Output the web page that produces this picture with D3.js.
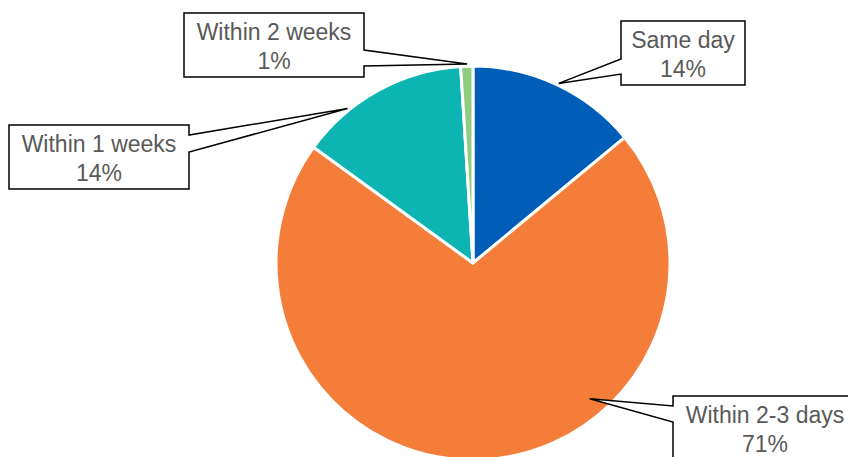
<!DOCTYPE html>
<html>
<head>
<meta charset="utf-8">
<script src="https://cdn.jsdelivr.net/npm/d3@7"></script>
<style>
  html, body { margin: 0; padding: 0; background: #fff; }
  svg { display: block; }
</style>
</head>
<body>
<svg id="chart" width="848" height="457"></svg>
<script>
// Response time categories and their shares (percent)
const categories = ["Same day", "Within 2-3 days", "Within 1 weeks", "Within 2 weeks"];
const values = [14, 71, 14, 1];
const valueLabels = ["14%", "71%", "14%", "1%"];

// Slice colours
const colors = ["#005EB8", "#F47D3A", "#0CB5B1", "#8FCC82"];

// Callout layout: box position and the pointer tip (polar, degrees clockwise from 12 o'clock)
const calloutBoxes = [
  { x: 621, y: 21, w: 124, h: 64, side: "left", baseY0: 38, baseY1: 53, tipAngle: 25.5, tipR: 199 },
  { x: 673, y: 396, w: 184, h: 64, side: "left", baseY0: 10, baseY1: 26, tipAngle: 139.3, tipR: 179 },
  { x: 9, y: 125, w: 180, h: 64, side: "right", baseY0: 10, baseY1: 27, tipAngle: 320.9, tipR: 199 },
  { x: 184, y: 13, w: 180, h: 64, side: "right", baseY0: 37, baseY1: 53, tipAngle: 358.3, tipR: 199 }
];

const cx = 473, cy = 263, radius = 197;
const svg = d3.select("#chart");

const pie = d3.pie().sort(null).value(d => d)(values);
const arc = d3.arc().innerRadius(0).outerRadius(radius);

const g = svg.append("g").attr("transform", `translate(${cx},${cy})`);
g.selectAll("path.slice")
  .data(pie)
  .join("path")
  .attr("class", "slice")
  .attr("d", arc)
  .attr("fill", (d, i) => colors[i])
  .attr("stroke", "#fff")
  .attr("stroke-width", 3)
  .attr("stroke-linejoin", "round");

// Callout shapes: rectangle with a wedge pointer towards its slice
const toRad = Math.PI / 180;
calloutBoxes.forEach((b, i) => {
  const [tx, ty] = d3.pointRadial(b.tipAngle * toRad, b.tipR);
  const tipX = cx + tx, tipY = cy + ty;
  const p = d3.path();
  const x0 = b.x, x1 = b.x + b.w, y0 = b.y, y1 = b.y + b.h;
  if (b.side === "left") {
    p.moveTo(x0, y0);
    p.lineTo(x1, y0);
    p.lineTo(x1, y1);
    p.lineTo(x0, y1);
    p.lineTo(x0, y0 + b.baseY1);
    p.lineTo(tipX, tipY);
    p.lineTo(x0, y0 + b.baseY0);
    p.closePath();
  } else {
    p.moveTo(x0, y0);
    p.lineTo(x1, y0);
    p.lineTo(x1, y0 + b.baseY0);
    p.lineTo(tipX, tipY);
    p.lineTo(x1, y0 + b.baseY1);
    p.lineTo(x1, y1);
    p.lineTo(x0, y1);
    p.closePath();
  }
  svg.append("path")
    .attr("d", p.toString())
    .attr("fill", "#fff")
    .attr("stroke", "#000")
    .attr("stroke-width", 1.5)
    .attr("stroke-linejoin", "miter");

  const t = svg.append("text")
    .attr("x", b.x + b.w / 2)
    .attr("text-anchor", "middle")
    .attr("font-family", "Liberation Sans, Arial, sans-serif")
    .attr("font-size", 23)
    .attr("fill", "#595959");
  t.append("tspan").attr("x", b.x + b.w / 2).attr("y", b.y + 27).text(categories[i]);
  t.append("tspan").attr("x", b.x + b.w / 2).attr("y", b.y + 55.5).text(valueLabels[i]);
});
</script>
</body>
</html>
